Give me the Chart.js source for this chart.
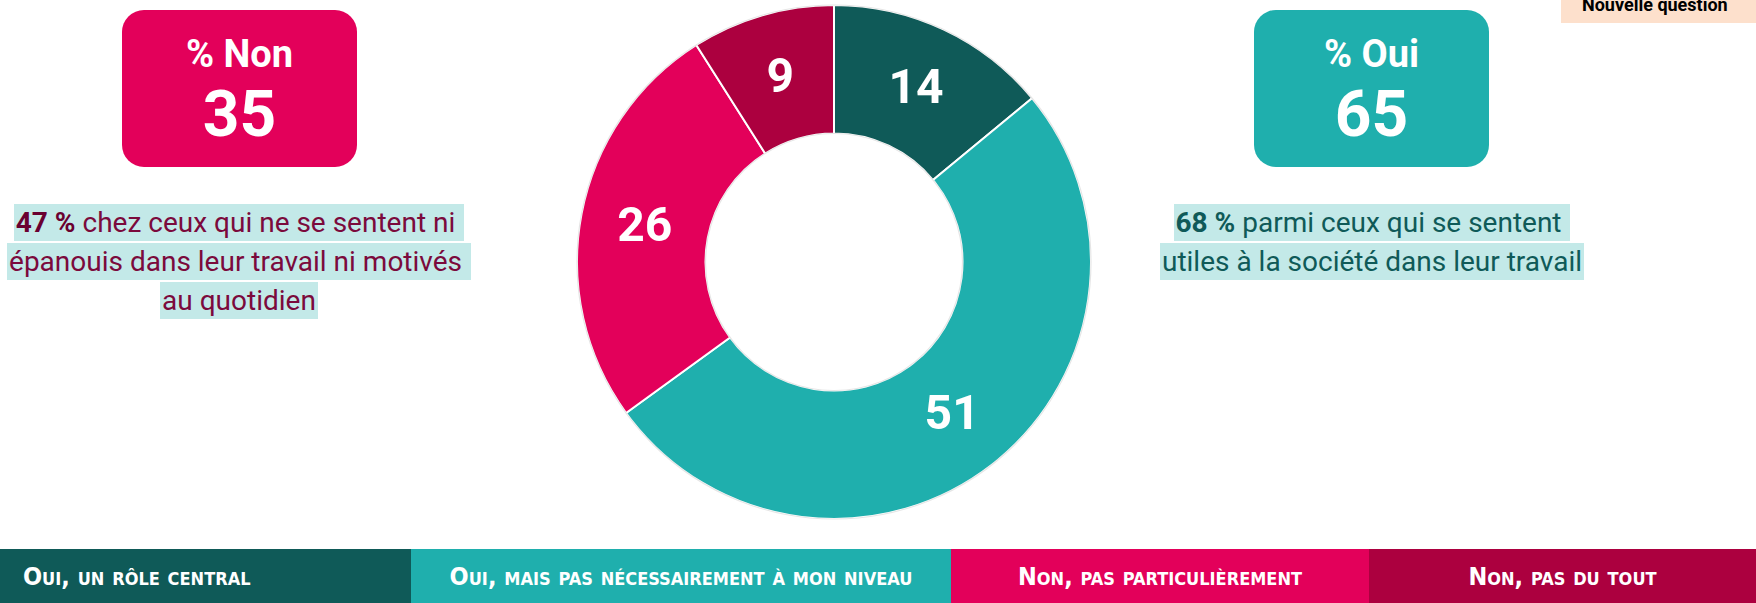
<!DOCTYPE html>
<html lang="fr">
<head>
<meta charset="utf-8">
<script src="https://cdn.jsdelivr.net/npm/chart.js@4.4.1/dist/chart.umd.min.js"></script>
<style>
  html, body { margin: 0; padding: 0; background: #ffffff; }
  body { width: 1756px; height: 603px; position: relative; overflow: hidden; font-family: Roboto, "Noto Sans", sans-serif; }
  .box { position: absolute; top: 10px; width: 235px; height: 157px; border-radius: 22px; color: #fff; text-align: center; }
  .box .t { position: absolute; left: 0; right: 0; top: 25px; font-size: 38px; line-height: 38px; font-weight: 700; }
  .box .v { position: absolute; left: 0; right: 0; top: 73px; font-size: 64px; line-height: 64px; font-weight: 700; }
  .note { position: absolute; top: 204px; text-align: center; font-size: 28px; }
  .note .ln { height: 39px; }
  .note .ln span.hl { display: inline-block; line-height: 37px; height: 37px; background: #c3e9e8; white-space: pre; padding: 0 2px; }
  .note b { font-weight: 700; }
  #tag { position: absolute; left: 1561px; top: 0; width: 195px; height: 23px; background: #fde0cc; }
  #tag span { position: absolute; left: 21px; top: -4px; font-size: 18px; line-height: 18px; font-weight: 700; color: #000; white-space: nowrap; }
  #chartWrap { position: absolute; left: 576px; top: 4px; width: 516px; height: 516px; }
  #legend { position: absolute; left: 0; top: 549px; width: 1756px; height: 54px; display: flex; }
  #legend div { height: 54px; line-height: 56px; color: #fff; font-family: "DejaVu Sans Condensed", Roboto, sans-serif; font-weight: 700; font-variant-caps: small-caps; font-size: 25px; white-space: nowrap; }
</style>
</head>
<body>

<div id="tag"><span>Nouvelle question</span></div>

<div class="box" id="boxNon" style="left:122px; background:#e3005a;"><div class="t">% Non</div><div class="v" id="valNon"></div></div>
<div class="box" id="boxOui" style="left:1254px; background:#1fafad;"><div class="t">% Oui</div><div class="v" id="valOui"></div></div>

<div class="note" style="left:0; width:478px; color:#7b0a3c;">
  <div class="ln"><span class="hl"><b style="color:#6a0030">47 %</b> chez ceux qui ne se sentent ni </span></div>
  <div class="ln"><span class="hl">épanouis dans leur travail ni motivés </span></div>
  <div class="ln"><span class="hl">au quotidien</span></div>
</div>

<div class="note" style="left:1122px; width:500px; color:#0f5a58;">
  <div class="ln"><span class="hl"><b>68 %</b> parmi ceux qui se sentent </span></div>
  <div class="ln"><span class="hl">utiles à la société dans leur travail</span></div>
</div>

<div id="chartWrap"><canvas id="donut"></canvas></div>

<div id="legend"></div>

<script>
// Answer categories, in the order they run clockwise from 12 o'clock
const categories = [
  "Oui, un rôle central",
  "Oui, mais pas nécessairement à mon niveau",
  "Non, pas particulièrement",
  "Non, pas du tout"
];
// Share of respondents per answer (%)
const shares = [14, 51, 26, 9];
const colors = ["#0f5a58", "#1fafad", "#e3005a", "#ac003f"];
// Totals shown in the two summary boxes
const totalOui = 65;
const totalNon = 35;

document.getElementById("valOui").textContent = totalOui;
document.getElementById("valNon").textContent = totalNon;

// Legend strip along the bottom
const legendWidths = [411, 540, 418, 387];
const legend = document.getElementById("legend");
categories.forEach((c, i) => {
  const d = document.createElement("div");
  d.textContent = c;
  d.style.background = colors[i];
  d.style.width = legendWidths[i] + "px";
  if (i === 0) { d.style.paddingLeft = "23px"; d.style.boxSizing = "border-box"; }
  else { d.style.textAlign = "center"; }
  legend.appendChild(d);
});

// Value labels in the middle of each ring segment, plus a faint rim outline
const ringDecor = {
  id: "ringDecor",
  afterDatasetsDraw(chart) {
    const ctx = chart.ctx;
    const meta = chart.getDatasetMeta(0);
    const first = meta.data[0];
    ctx.save();
    ctx.strokeStyle = "rgba(0,0,0,0.10)";
    ctx.lineWidth = 1.2;
    ctx.beginPath(); ctx.arc(first.x, first.y, first.outerRadius, 0, Math.PI * 2); ctx.stroke();
    ctx.beginPath(); ctx.arc(first.x, first.y, first.innerRadius, 0, Math.PI * 2); ctx.stroke();
    ctx.fillStyle = "#ffffff";
    ctx.font = "700 48px Roboto, sans-serif";
    ctx.textAlign = "center";
    ctx.textBaseline = "middle";
    meta.data.forEach((arc, i) => {
      const p = arc.tooltipPosition();
      ctx.fillText(String(chart.data.datasets[0].data[i]), p.x, p.y + 3);
    });
    ctx.restore();
  }
};

new Chart(document.getElementById("donut"), {
  type: "doughnut",
  data: {
    labels: categories,
    datasets: [{
      data: shares,
      backgroundColor: colors,
      borderColor: "#ffffff",
      borderWidth: 2,
      hoverOffset: 0
    }]
  },
  options: {
    responsive: true,
    maintainAspectRatio: false,
    animation: false,
    cutout: "50%",
    layout: { padding: 0 },
    plugins: {
      legend: { display: false },
      tooltip: { enabled: false }
    }
  },
  plugins: [ringDecor]
});
</script>
</body>
</html>
